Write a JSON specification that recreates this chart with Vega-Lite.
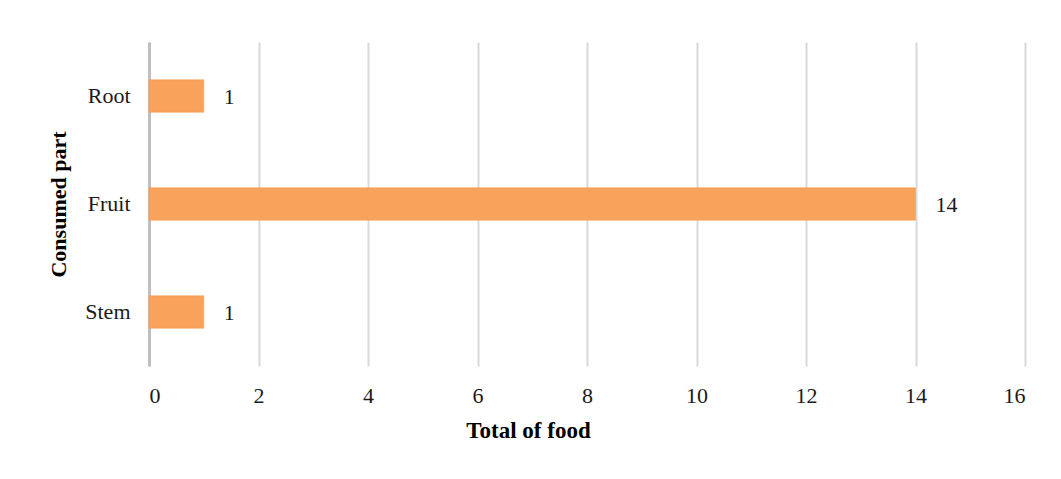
{
  "$schema": "https://vega.github.io/schema/vega-lite/v6.json",
  "width": 876,
  "height": 324,
  "autosize": {"type": "none"},
  "padding": {"left": 149, "top": 42, "right": 36, "bottom": 113},
  "background": "white",
  "config": {
    "view": {"stroke": null},
    "font": "Liberation Serif"
  },
  "data": {
    "values": [
      {"part": "Root", "total": 1},
      {"part": "Fruit", "total": 14},
      {"part": "Stem", "total": 1}
    ]
  },
  "encoding": {
    "y": {
      "field": "part",
      "type": "nominal",
      "sort": ["Root", "Fruit", "Stem"],
      "scale": {"paddingInner": 0.7, "paddingOuter": 0.35},
      "axis": {
        "title": "Consumed part",
        "titleFont": "Liberation Serif",
        "titleFontSize": 22,
        "titleFontWeight": "bold",
        "titleColor": "#000000",
        "titlePadding": 14,
        "labelFont": "Liberation Serif",
        "labelFontSize": 22,
        "labelColor": "#1a1a1a",
        "labelPadding": 19,
        "ticks": false,
        "domainColor": "#BFBFBF",
        "domainWidth": 3,
        "grid": false
      }
    },
    "x": {
      "field": "total",
      "type": "quantitative",
      "scale": {"domain": [0, 16], "nice": false},
      "axis": {
        "title": "Total of food",
        "titleFont": "Liberation Serif",
        "titleFontSize": 23,
        "titleFontWeight": "bold",
        "titleColor": "#000000",
        "titleX": 379,
        "titlePadding": 13,
        "values": [0, 2, 4, 6, 8, 10, 12, 14, 16],
        "labelFont": "Liberation Serif",
        "labelFontSize": 22,
        "labelColor": "#1a1a1a",
        "labelPadding": 19,
        "ticks": false,
        "domain": false,
        "grid": true,
        "gridColor": "#D9D9D9",
        "gridWidth": 2
      }
    }
  },
  "layer": [
    {
      "mark": {"type": "bar", "color": "#F8A25C", "stroke": "#F59445", "strokeWidth": 0.5}
    },
    {
      "mark": {
        "type": "text",
        "align": "left",
        "baseline": "middle",
        "dx": 20,
        "dy": 1,
        "font": "Liberation Serif",
        "fontSize": 22,
        "color": "#1a1a1a"
      },
      "encoding": {"text": {"field": "total", "type": "quantitative"}}
    }
  ]
}
